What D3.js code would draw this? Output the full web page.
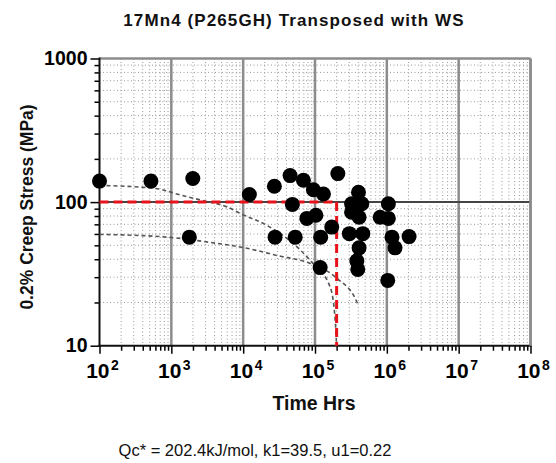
<!DOCTYPE html>
<html>
<head>
<meta charset="utf-8">
<script src="https://cdn.jsdelivr.net/npm/d3@7"></script>
<style>
  html, body { margin: 0; padding: 0; background: #fff; }
  svg { display: block; font-family: "Liberation Sans", Arial, sans-serif; }
</style>
</head>
<body>
<script>
// Creep data: time to 0.2% creep strain (hours) vs applied stress (MPa)
const testTimes = [
  100, 520, 1990, 1780, 12200, 27200, 45000, 48400, 69000, 27800, 53000,
  95000, 131000, 208000, 77000, 103000, 171000, 120000, 118000,
  323000, 449000, 403000, 323000, 411000, 301000, 463000, 411000, 382000, 394000,
  1050000, 807000, 1050000, 1180000, 1300000, 2040000, 1030000
];
const testStresses = [
  140, 140, 146, 57, 113, 129, 153, 96.4, 142, 57, 57,
  122, 114, 158, 77, 81, 67, 57, 35,
  97.5, 97.5, 117, 85, 78.5, 60.3, 60.3, 48, 39, 34,
  97.5, 78.5, 77, 57, 48, 57.5, 28.5
];

// Wilshire prediction curves
const upperCurveT = [100, 593, 1409, 2680, 6170, 9060, 21500, 49500, 85500, 163000, 191000, 200000];
const upperCurveS = [130.7, 124.6, 111.3, 102.8, 91.9, 83.4, 68.8, 51.5, 39.3, 25.5, 15, 10];
const lowerCurveT = [100, 959, 3460, 9980, 29600, 85500, 203000, 385000, 398000];
const lowerCurveS = [59.6, 56.8, 52.4, 48.3, 42.5, 37.4, 29.4, 20.0, 19.1];

// Reference point: 100 MPa at 2x10^5 h
const refStress = 100;
const refTime = 200000;

// Axis ticks
const xMajor = [1e2, 1e3, 1e4, 1e5, 1e6, 1e7, 1e8];
const xExponents = ["2", "3", "4", "5", "6", "7", "8"];
const yMajor = [10, 100, 1000];
const yLabels = ["10", "100", "1000"];

const titleText = "17Mn4 (P265GH) Transposed with WS";
const xTitle = "Time Hrs";
const yTitle = "0.2% Creep Stress (MPa)";
const footText = "Qc* = 202.4kJ/mol, k1=39.5, u1=0.22";

const W = 556, H = 463;
const L = 99.5, R = 530.5, T = 58.5, B = 345.7;

const x = d3.scaleLog().domain([1e2, 1e8]).range([L, R]);
const y = d3.scaleLog().domain([10, 1000]).range([B, T]);

const xMinor = [];
for (let d = 0; d < xMajor.length - 1; d++)
  for (let m = 2; m <= 9; m++) xMinor.push(xMajor[d] * m);
const yMinor = [];
for (let d = 0; d < yMajor.length - 1; d++)
  for (let m = 2; m <= 9; m++) yMinor.push(yMajor[d] * m);

const svg = d3.select("body").append("svg").attr("width", W).attr("height", H);
svg.append("rect").attr("width", W).attr("height", H).attr("fill", "#fff");

// minor dotted grid
const grid = svg.append("g");
grid.selectAll(".vx").data(xMinor).join("line")
  .attr("x1", d => x(d)).attr("x2", d => x(d)).attr("y1", T).attr("y2", B)
  .attr("stroke", "#999").attr("stroke-width", 1).attr("stroke-dasharray", "1,2.5");
grid.selectAll(".hy").data(yMinor).join("line")
  .attr("x1", L).attr("x2", R).attr("y1", d => y(d)).attr("y2", d => y(d))
  .attr("stroke", "#999").attr("stroke-width", 1).attr("stroke-dasharray", "1,2.5");

// major grid
grid.selectAll(".mx").data(xMajor.slice(1)).join("line")
  .attr("x1", d => x(d)).attr("x2", d => x(d)).attr("y1", T).attr("y2", B)
  .attr("stroke", "#8c8c8c").attr("stroke-width", 2.5);
grid.append("line").attr("x1", L).attr("x2", R).attr("y1", y(1000)).attr("y2", y(1000))
  .attr("stroke", "#8c8c8c").attr("stroke-width", 2.5);
grid.append("line").attr("x1", L).attr("x2", R).attr("y1", y(100)).attr("y2", y(100))
  .attr("stroke", "#444").attr("stroke-width", 2);

// axes
const yAxisMinor = d3.axisLeft(y).tickValues(yMinor).tickSize(5).tickFormat("");
const yAxisMajor = d3.axisLeft(y).tickValues(yMajor).tickSize(9).tickFormat((d, i) => yLabels[i]);
const xAxisMinor = d3.axisBottom(x).tickValues(xMinor).tickSize(5).tickFormat("");
const xAxisMajor = d3.axisBottom(x).tickValues(xMajor).tickSize(8).tickFormat("");

function styleAxis(g) {
  g.select(".domain").remove();
  g.selectAll(".tick line").attr("stroke", "#000").attr("stroke-width", 1.5);
}
svg.append("g").attr("transform", `translate(${L},0)`).call(yAxisMinor).call(styleAxis);
const yg = svg.append("g").attr("transform", `translate(${L},0)`).call(yAxisMajor).call(styleAxis);
yg.selectAll(".tick text").attr("font-size", 19.5).attr("font-weight", "bold")
  .attr("fill", "#000").attr("font-family", "Liberation Sans, Arial, sans-serif").attr("x", -12);
svg.append("g").attr("transform", `translate(0,${B})`).call(xAxisMinor).call(styleAxis);
svg.append("g").attr("transform", `translate(0,${B})`).call(xAxisMajor).call(styleAxis);

// x tick labels: 10 with superscript exponent
xMajor.forEach((v, i) => {
  const t = svg.append("text").attr("x", x(v) + 3).attr("y", 378)
    .attr("text-anchor", "middle").attr("font-weight", "bold").attr("fill", "#000");
  t.append("tspan").attr("font-size", 21).text("10");
  t.append("tspan").attr("font-size", 14).attr("dy", -8).attr("dx", 1.5).text(xExponents[i]);
});

// axis lines
svg.append("line").attr("x1", L).attr("x2", L).attr("y1", T - 1).attr("y2", B + 1)
  .attr("stroke", "#111").attr("stroke-width", 2);
svg.append("line").attr("x1", L - 1).attr("x2", R + 1).attr("y1", B).attr("y2", B)
  .attr("stroke", "#111").attr("stroke-width", 2);
svg.append("line").attr("x1", R).attr("x2", R).attr("y1", T).attr("y2", B)
  .attr("stroke", "#8c8c8c").attr("stroke-width", 2.5);

// prediction curves
const line = d3.line().x(d => x(d[0])).y(d => y(d[1])).curve(d3.curveMonotoneX);
const plot = svg.append("g");
plot.append("path").datum(upperCurveT.map((t, i) => [t, upperCurveS[i]]))
  .attr("d", line).attr("fill", "none").attr("stroke", "#555").attr("stroke-width", 1.6)
  .attr("stroke-dasharray", "4,3");
plot.append("path").datum(lowerCurveT.map((t, i) => [t, lowerCurveS[i]]))
  .attr("d", line).attr("fill", "none").attr("stroke", "#555").attr("stroke-width", 1.6)
  .attr("stroke-dasharray", "4,3");

// reference lines
plot.append("line").attr("x1", L).attr("x2", x(refTime)).attr("y1", y(refStress)).attr("y2", y(refStress))
  .attr("stroke", "#e8121a").attr("stroke-width", 3).attr("stroke-dasharray", "9,5");
plot.append("line").attr("x1", x(refTime)).attr("x2", x(refTime)).attr("y1", y(refStress)).attr("y2", B)
  .attr("stroke", "#e8121a").attr("stroke-width", 3).attr("stroke-dasharray", "9,5");

// data points
plot.selectAll("circle").data(testTimes.map((t, i) => [t, testStresses[i]])).join("circle")
  .attr("cx", d => x(d[0])).attr("cy", d => y(d[1])).attr("r", 7.5).attr("fill", "#000");

// titles
svg.append("text").attr("x", 294).attr("y", 26).attr("text-anchor", "middle")
  .attr("font-size", 17).attr("font-weight", "bold").attr("letter-spacing", 1.1).attr("fill", "#111")
  .text(titleText);
svg.append("text").attr("x", 314).attr("y", 410).attr("text-anchor", "middle")
  .attr("font-size", 19.5).attr("font-weight", "bold").attr("fill", "#111").text(xTitle);
svg.append("text").attr("transform", "translate(33,207) rotate(-90)").attr("text-anchor", "middle")
  .attr("font-size", 17.5).attr("font-weight", "bold").attr("fill", "#111").text(yTitle);
svg.append("text").attr("x", 255).attr("y", 456).attr("text-anchor", "middle")
  .attr("font-size", 16.5).attr("fill", "#111").text(footText);
</script>
</body>
</html>
